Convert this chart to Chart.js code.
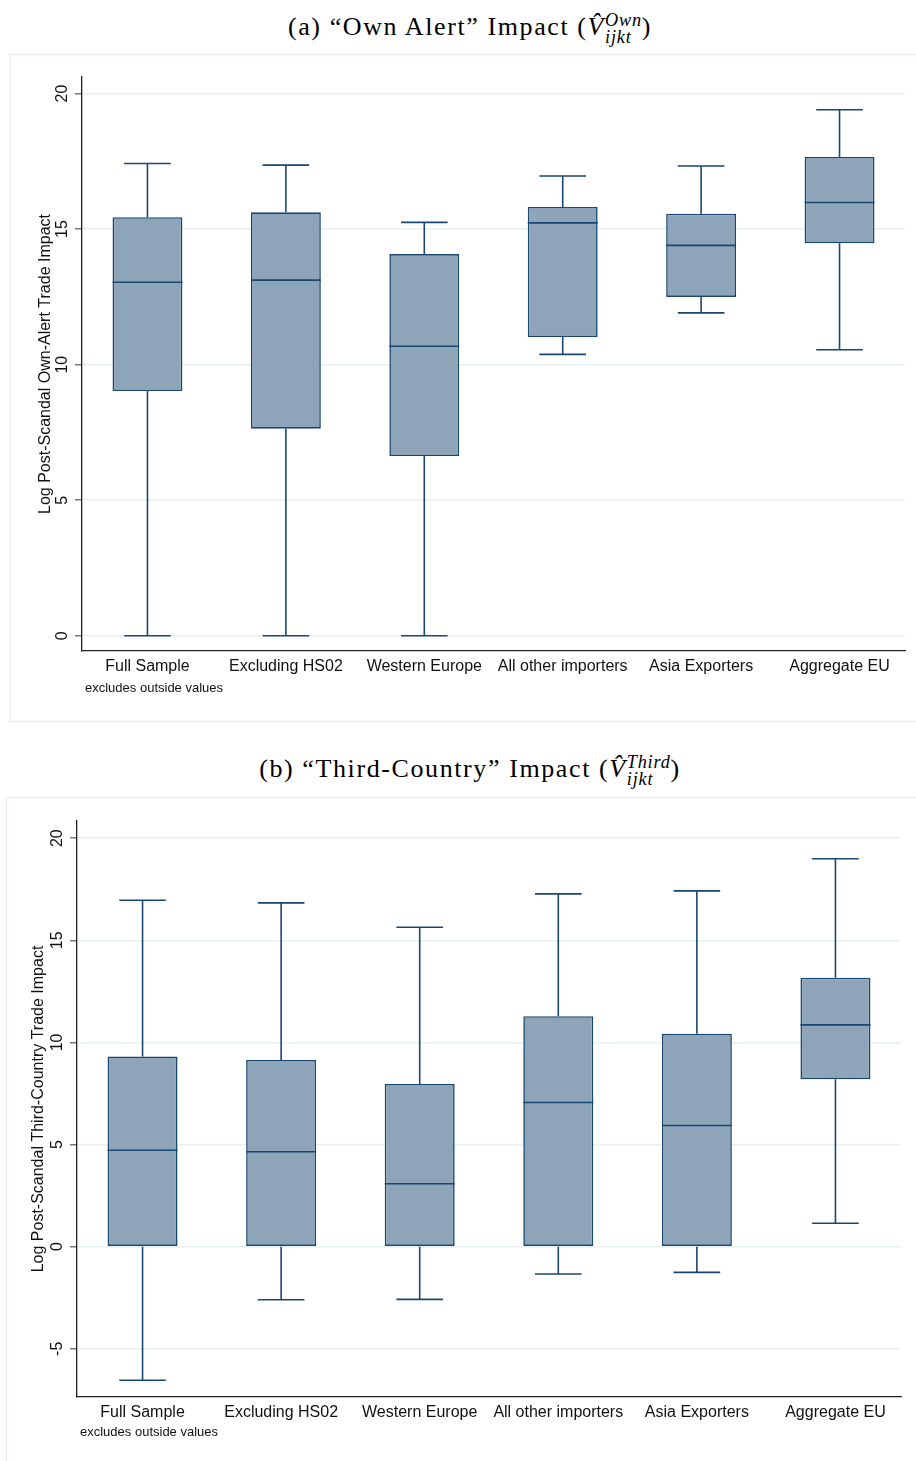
<!DOCTYPE html>
<html>
<head>
<meta charset="utf-8">
<script src="https://cdn.jsdelivr.net/npm/chart.js"></script>
<style>
  html, body { margin: 0; padding: 0; background: #fff; }
  body { width: 916px; height: 1461px; position: relative; overflow: hidden; }
  .titulo { position: absolute; left: 0; width: 940px; text-align: center; line-height: 30px;
            font-family: "Liberation Serif", serif; font-size: 26px; letter-spacing: 1.6px; color: #000; white-space: nowrap; }
  .mat { font-style: italic; }
  .supsub { display: inline-block; vertical-align: -0.45em; font-size: 0.7em; line-height: 0.95; text-align: left; letter-spacing: 0.8px; }
  .supsub span { display: block; }
  .marco { position: absolute; border: 1px solid #e4ebef; box-sizing: border-box; }
  canvas { position: absolute; }
</style>
</head>
<body>

<div class="titulo" style="top:12px">(a) “Own Alert” Impact (<span class="mat">V&#770;</span><span class="supsub"><span class="mat">Own</span><span class="mat">ijkt</span></span>)</div>
<div class="marco" style="left:10px; top:54px; width:912px; height:668px"></div>
<canvas id="grafA" width="906" height="667" style="left:10px; top:55px"></canvas>

<div class="titulo" style="top:754px">(b) “Third-Country” Impact (<span class="mat">V&#770;</span><span class="supsub"><span class="mat">Third</span><span class="mat">ijkt</span></span>)</div>
<div class="marco" style="left:6px; top:797px; width:916px; height:670px"></div>
<canvas id="grafB" width="910" height="663" style="left:6px; top:798px"></canvas>

<script>
// categorias
const categories = ['Full Sample', 'Excluding HS02', 'Western Europe', 'All other importers', 'Asia Exporters', 'Aggregate EU']

// (a) own alert
const ownLower  = [0, 0, 0, 10.38, 11.91, 10.55]
const ownQ1     = [9.03, 7.64, 6.63, 11.02, 12.50, 14.48]
const ownMedian = [13.04, 13.12, 10.68, 15.23, 14.40, 15.98]
const ownQ3     = [15.44, 15.62, 14.08, 15.82, 15.57, 17.66]
const ownUpper  = [17.42, 17.36, 15.25, 16.96, 17.33, 19.40]
const ownTicks  = [0, 5, 10, 15, 20]

// (b) third country
const thirdLower  = [-6.54, -2.60, -2.58, -1.34, -1.26, 1.15]
const thirdQ1     = [0, 0, 0, 0, 0, 8.20]
const thirdMedian = [4.72, 4.65, 3.08, 7.06, 5.93, 10.86]
const thirdQ3     = [9.31, 9.14, 7.97, 11.28, 10.42, 13.17]
const thirdUpper  = [16.96, 16.83, 15.64, 17.27, 17.42, 18.99]
const thirdTicks  = [-5, 0, 5, 10, 15, 20]

const navy = '#1a476f'
const relleno = '#8ea5b9'
const fuente = '"Liberation Sans", Arial, sans-serif'

// bigotes, medianas, etiquetas del eje y y nota
const cajaPlugin = {
    id: 'caja',
    afterDatasetsDraw(chart, args, opts) {
        const ctx = chart.ctx
        const y = chart.scales.y
        const meta = chart.getDatasetMeta(0)
        ctx.save()
        ctx.strokeStyle = navy
        ctx.lineWidth = 1.6
        meta.data.forEach((bar, i) => {
            const half = bar.width / 2
            const cap = bar.width / 3
            const yLow = y.getPixelForValue(opts.lower[i])
            const yQ1 = y.getPixelForValue(opts.q1[i])
            const yMed = y.getPixelForValue(opts.median[i])
            const yQ3 = y.getPixelForValue(opts.q3[i])
            const yUp = y.getPixelForValue(opts.upper[i])
            ctx.beginPath()
            ctx.moveTo(bar.x, yQ3); ctx.lineTo(bar.x, yUp)
            ctx.moveTo(bar.x - cap, yUp); ctx.lineTo(bar.x + cap, yUp)
            ctx.moveTo(bar.x, yQ1); ctx.lineTo(bar.x, yLow)
            ctx.moveTo(bar.x - cap, yLow); ctx.lineTo(bar.x + cap, yLow)
            ctx.moveTo(bar.x - half, yMed); ctx.lineTo(bar.x + half, yMed)
            ctx.stroke()
        })
        ctx.restore()
    },
    afterDraw(chart, args, opts) {
        const ctx = chart.ctx
        const y = chart.scales.y
        const area = chart.chartArea
        ctx.save()
        ctx.fillStyle = '#111'
        ctx.font = '16px ' + fuente
        ctx.textAlign = 'center'
        ctx.textBaseline = 'middle'
        y.ticks.forEach(t => {
            ctx.save()
            ctx.translate(area.left - 19.5, y.getPixelForValue(t.value))
            ctx.rotate(-Math.PI / 2)
            ctx.fillText(String(t.value), 0, 0)
            ctx.restore()
        })
        ctx.font = '13px ' + fuente
        ctx.textAlign = 'left'
        ctx.fillText('excludes outside values', area.left + 3, area.bottom + opts.notaY)
        ctx.restore()
    }
}

function grafico(id, d) {
    return new Chart(document.getElementById(id), {
        type: 'bar',
        data: {
            datasets: [{
                data: categories.map((c, i) => ({ x: i, y: [d.q1[i], d.q3[i]] })),
                backgroundColor: relleno,
                borderColor: navy,
                borderWidth: 1.6,
                borderSkipped: false,
                barPercentage: 0.505,
                categoryPercentage: 1
            }]
        },
        options: {
            responsive: false,
            animation: false,
            events: [],
            layout: { padding: { top: d.padTop, right: d.padRight, left: 0, bottom: 0 } },
            plugins: {
                legend: { display: false },
                tooltip: { enabled: false },
                caja: { lower: d.lower, q1: d.q1, median: d.median, q3: d.q3, upper: d.upper, notaY: d.notaY }
            },
            scales: {
                x: {
                    type: 'linear',
                    offset: false,
                    min: -0.473,
                    max: 5.473,
                    afterBuildTicks: s => { s.ticks = categories.map((c, i) => ({ value: i })) },
                    afterFit: s => { s.height = d.xHeight },
                    grid: { display: false, drawTicks: false, offset: false },
                    border: { display: true, color: '#222', width: 1.3 },
                    ticks: {
                        autoSkip: false, maxRotation: 0, minRotation: 0, padding: 6,
                        color: '#111', font: { size: 16, family: fuente },
                        callback: v => categories[v]
                    }
                },
                y: {
                    min: d.min,
                    max: d.max,
                    afterBuildTicks: s => { s.ticks = d.ticks.map(v => ({ value: v })) },
                    afterFit: s => { s.width = d.yWidth },
                    grid: { color: '#e8eff3', lineWidth: 1.5, tickColor: '#777', tickLength: 7, drawTicks: true },
                    border: { display: true, color: '#222', width: 1.3 },
                    ticks: { display: false },
                    title: {
                        display: true, text: d.yTitle, color: '#111',
                        font: { size: 16, family: fuente }, padding: { top: d.titlePad, bottom: 0 }
                    }
                }
            }
        },
        plugins: [cajaPlugin]
    })
}

grafico('grafA', {
    lower: ownLower, q1: ownQ1, median: ownMedian, q3: ownQ3, upper: ownUpper, ticks: ownTicks,
    min: -0.56, max: 20.61, padTop: 22, padRight: 11, yWidth: 72, xHeight: 71,
    yTitle: 'Log Post-Scandal Own-Alert Trade Impact', titlePad: 26, notaY: 37
})

grafico('grafB', {
    lower: thirdLower, q1: thirdQ1, median: thirdMedian, q3: thirdQ3, upper: thirdUpper, ticks: thirdTicks,
    min: -7.36, max: 20.84, padTop: 23, padRight: 15, yWidth: 71, xHeight: 64,
    yTitle: 'Log Post-Scandal Third-Country Trade Impact', titlePad: 23, notaY: 35
})
</script>
</body>
</html>
